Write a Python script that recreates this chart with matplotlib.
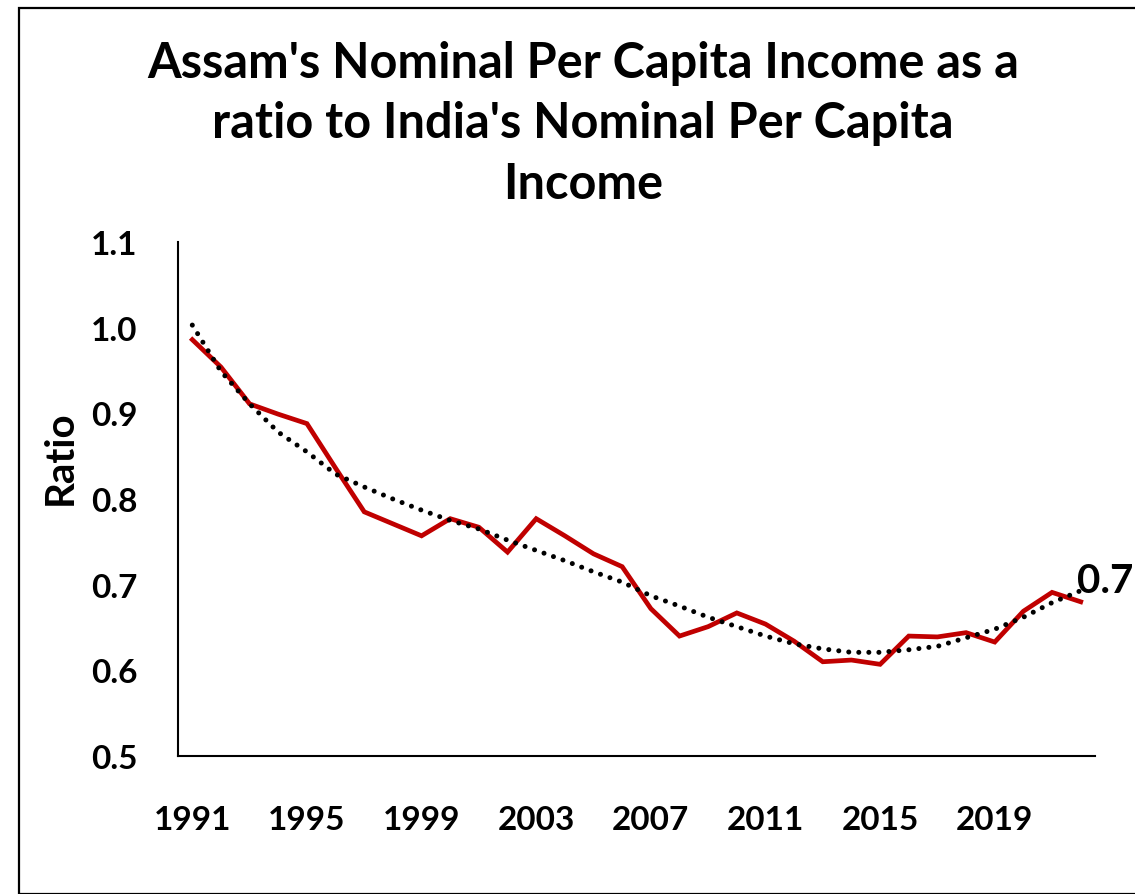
import matplotlib.pyplot as plt
from matplotlib.patches import Rectangle

plt.rcParams['font.family'] = ['Lato', 'DejaVu Sans']
plt.rcParams['font.weight'] = 'bold'

# data
years = list(range(1991, 2023))
ratio = [0.986, 0.954, 0.911, 0.899, 0.888, 0.836, 0.785, 0.771, 0.757, 0.777,
         0.767, 0.738, 0.777, 0.757, 0.736, 0.721, 0.672, 0.640, 0.651, 0.667,
         0.654, 0.634, 0.610, 0.612, 0.607, 0.640, 0.639, 0.644, 0.633, 0.669,
         0.691, 0.680]
# polynomial trendline as drawn in the reference
trend = [1.003, 0.949, 0.911, 0.878, 0.855, 0.829, 0.814, 0.800, 0.787, 0.775,
         0.765, 0.752, 0.740, 0.728, 0.715, 0.703, 0.687, 0.675, 0.662, 0.651,
         0.640, 0.631, 0.625, 0.621, 0.621, 0.624, 0.628, 0.638, 0.648, 0.662,
         0.679, 0.693]
tick_years = [1991, 1995, 1999, 2003, 2007, 2011, 2015, 2019]
y_ticks = [0.5, 0.6, 0.7, 0.8, 0.9, 1.0, 1.1]
end_label = '0.7'

fig = plt.figure(figsize=(11.35, 8.95), dpi=100)
ax = fig.add_axes([0.1568, 0.1542, 0.8080, 0.5743])

# chart border (only top and left edges visible in the crop)
fig.patches.append(Rectangle((19 / 1135, 0), 2, (895 - 9) / 895, transform=fig.transFigure,
                             fill=False, edgecolor='black', linewidth=1.6))

ax.plot(years, trend, color='black', linewidth=3.6, dashes=(0.01, 2.0),
        dash_capstyle='round', zorder=3)
ax.plot(years, ratio, color='#C00000', linewidth=3.4, solid_joinstyle='miter', zorder=2)

ax.annotate(end_label, xy=(years[-1], ratio[-1]), xytext=(-3, 15), textcoords='offset points',
            ha='left', va='center', fontsize=29, fontweight='bold')

ax.set_xlim(1990.5, 2022.5)
ax.set_ylim(0.5, 1.1)
ax.set_xticks(tick_years)
ax.set_xticklabels([str(y) for y in tick_years])
ax.set_yticks(y_ticks)
ax.set_yticklabels([f'{v:.1f}' for v in y_ticks])
ax.tick_params(axis='x', length=0, pad=35, labelsize=24)
ax.tick_params(axis='y', length=0, pad=29, labelsize=24)
for lbl in ax.get_xticklabels() + ax.get_yticklabels():
    lbl.set_fontweight('bold')

for s in ['top', 'right']:
    ax.spines[s].set_visible(False)
for s in ['left', 'bottom']:
    ax.spines[s].set_linewidth(1.5)

fig.text(60 / 1135, (895 - 458) / 895, 'Ratio', rotation=90, ha='center', va='center',
         fontsize=29, fontweight='bold')

fig.text(583 / 1135, (895 - 124) / 895,
         "Assam's Nominal Per Capita Income as a\nratio to India's Nominal Per Capita\nIncome",
         ha='center', va='center', fontsize=35, fontweight='bold', linespacing=1.42)

fig.savefig('out.png', dpi=100)
